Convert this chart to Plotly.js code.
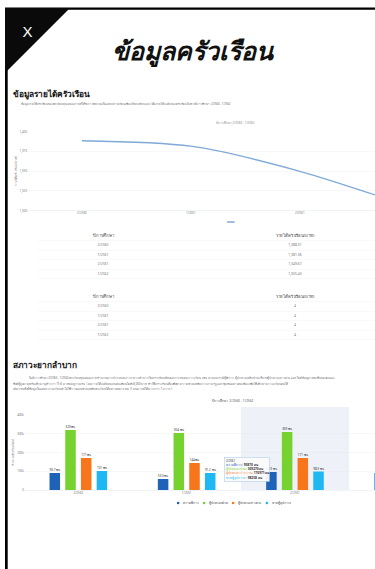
<!DOCTYPE html>
<html><head><meta charset="utf-8">
<script src="https://cdn.plot.ly/plotly-3.0.1.min.js"></script>
<style>
html,body{margin:0;padding:0;overflow:hidden;background:#fff;width:375px;height:569px;}
#wrap{position:absolute;left:0;top:0;width:375px;height:569px;overflow:hidden;}
#chart{position:absolute;left:0;top:0;width:1500px;height:2276px;transform:scale(0.25);transform-origin:0 0;}
</style></head><body><div id="wrap"><div id="chart"></div></div>
<script>
// ---------- data ----------
const terms = ["2/2560", "1/2561", "2/2561", "1/2562"];
const incomeValues = [1388.31, 1381.36, 1349.67, 1305.43];
const incomeLabels = ["1,388.31", "1,381.36", "1,349.67", "1,305.43"];
const memberLabels = ["4", "4", "4", "4"];
const tableHeaders = ["ปีการศึกษา", "รายได้ครัวเรือน(บาท)"];
const hardshipNames = ["ความพิการ", "ผู้ปกครองป่วย", "ผู้ปกครองว่างงาน", "ขาดผู้อุปการะ"];
const disabledCounts = [90700, 59000, 95870, 90500];
const parentIllCounts = [320100, 304200, 309270, 300400];
const unemployedCounts = [171200, 144300, 170971, 160200];
const orphanCounts = [101300, 91200, 98258, 95100];
const hardshipColors = ["#1f63b8", "#76d22e", "#f7761c", "#20b8f2"];

// ---------- geometry helpers (drawn at 4x, scaled down by CSS) ----------
const S = 4, W = 375, H = 569;
const fx = x => x / W;
const fy = y => 1 - y / H;
const fs = n => n * S;
const FONT = "Noto Sans, DejaVu Sans, sans-serif";

const hardshipSeries = [disabledCounts, parentIllCounts, unemployedCounts, orphanCounts];
const traces = [];

// line chart
traces.push({
  type: "scatter", mode: "lines", x: terms, y: incomeValues, xaxis: "x", yaxis: "y",
  line: {color: "#7fa9d6", width: fs(1.3), shape: "spline", smoothing: 0.8},
  name: " ", showlegend: true, legend: "legend2", hoverinfo: "skip"
});

// tables drawn as text on hidden axes
function tableTrace(col2, xa, ya) {
  const xs = [], ys = [], txt = [], sizes = [], colors = [];
  xs.push(0, 1); ys.push(0, 0); txt.push(tableHeaders[0], tableHeaders[1]);
  sizes.push(fs(4.3), fs(4.3)); colors.push("#444", "#444");
  terms.forEach((t, i) => {
    xs.push(0, 1); ys.push(i + 1, i + 1); txt.push(t, col2[i]);
    sizes.push(fs(3.4), fs(3.4)); colors.push("#777", "#777");
  });
  return {type: "scatter", mode: "text", x: xs, y: ys, text: txt, xaxis: xa, yaxis: ya,
    textposition: "middle center", textfont: {size: sizes, color: colors, family: FONT},
    showlegend: false, hoverinfo: "skip"};
}
traces.push(tableTrace(incomeLabels, "x3", "y3"));
traces.push(tableTrace(memberLabels, "x4", "y4"));

// bars
hardshipSeries.forEach((vals, k) => {
  traces.push({
    type: "bar", x: terms, y: vals, xaxis: "x2", yaxis: "y2",
    marker: {color: hardshipColors[k]}, name: hardshipNames[k], showlegend: false,
    text: vals.map(v => (v / 1000).toPrecision(3) + " พัน"), textposition: "outside",
    textfont: {size: fs(3), color: "#333", family: FONT}, cliponaxis: false, hoverinfo: "skip"
  });
});
// legend entries (circle symbols like the original)
hardshipNames.forEach((n, k) => {
  traces.push({type: "scatter", mode: "markers", x: [null], y: [null], xaxis: "x2", yaxis: "y2",
    name: n, marker: {color: hardshipColors[k], size: fs(2.6)}, legend: "legend", showlegend: true});
});

const tickFont = {size: fs(3), color: "#777", family: FONT};
const k = 2;
const tipText = "<span style='font-size:" + fs(2.8) + "px'>" + terms[k] + "</span>" +
  hardshipSeries.map((s, i) => "<br><span style='color:" + hardshipColors[i] + "'>" + hardshipNames[i] +
  ":</span> <b>" + s[k] + " คน</b>").join("");

function note(text, x, y, size, color, xanchor) {
  return {text: text, x: fx(x), y: fy(y), xref: "paper", yref: "paper", showarrow: false,
    xanchor: xanchor || "center", yanchor: "middle", align: xanchor === "left" ? "left" : "center",
    font: {size: fs(size), color: color}};
}

const layout = {
  width: 1500, height: 2276, margin: {l: 0, r: 0, t: 0, b: 0},
  paper_bgcolor: "#fff", plot_bgcolor: "rgba(0,0,0,0)",
  font: {family: FONT, color: "#333"},
  bargap: 0.42, bargroupgap: 0.33, barmode: "group",
  xaxis: {domain: [fx(27.5), 1], range: [-0.5, 2.69], type: "category", anchor: "y",
    showgrid: false, showline: true, linecolor: "#ccd6eb", linewidth: fs(0.3), ticks: "",
    tickfont: tickFont},
  yaxis: {domain: [fy(210.5), fy(131.5)], range: [1300, 1400], dtick: 25, anchor: "x",
    gridcolor: "#e9e9e9", gridwidth: fs(0.3), zeroline: false, tickfont: tickFont, tickformat: ",",
    title: {text: "รายได้ครัวเรือน (บาท)", font: {size: fs(2.8), color: "#777"}, standoff: fs(2)}},
  xaxis2: {domain: [fx(24.2), 1], range: [-0.5, 2.739], type: "category", anchor: "y2",
    showgrid: false, showline: true, linecolor: "#ccd6eb", linewidth: fs(0.3), ticks: "",
    tickfont: tickFont},
  yaxis2: {domain: [fy(490), fy(415)], range: [0, 400000], dtick: 100000, anchor: "x2",
    gridcolor: "#e9e9e9", gridwidth: fs(0.3), zeroline: false, tickfont: tickFont, tickformat: "~s",
    title: {text: "จำนวนนักเรียน (คน)", font: {size: fs(2.8), color: "#777"}, standoff: fs(2)}},
  xaxis3: {domain: [fx(38), 1], range: [(38 - 103) / 192, (375 - 103) / 192], visible: false, anchor: "y3"},
  yaxis3: {domain: [fy(279), fy(231.5)], range: [4.55, -0.5], anchor: "x3", tickmode: "linear", tick0: 0.5, dtick: 1,
    showticklabels: false, showgrid: true, gridcolor: "#ebebeb", gridwidth: fs(0.3), zeroline: false, showline: false},
  xaxis4: {domain: [fx(38), 1], range: [(38 - 103) / 192, (375 - 103) / 192], visible: false, anchor: "y4"},
  yaxis4: {domain: [fy(340), fy(292.5)], range: [4.55, -0.5], anchor: "x4", tickmode: "linear", tick0: 0.5, dtick: 1,
    showticklabels: false, showgrid: true, gridcolor: "#ebebeb", gridwidth: fs(0.3), zeroline: false, showline: false},
  legend: {orientation: "h", x: fx(232), xanchor: "center", y: fy(503), yanchor: "middle",
    font: {size: fs(3), color: "#333"}, bgcolor: "rgba(0,0,0,0)", itemwidth: 30},
  legend2: {orientation: "h", x: fx(232), xanchor: "center", y: fy(222), yanchor: "middle",
    font: {size: fs(3), color: "#333"}, bgcolor: "rgba(0,0,0,0)", itemwidth: 30},
  shapes: [
    {type: "rect", xref: "x2", yref: "paper", x0: 1.5, x1: 2.5, y0: fy(490), y1: fy(407),
      fillcolor: "#eef1f8", line: {width: 0}, layer: "below"},
    {type: "rect", xref: "paper", yref: "paper", x0: fx(5), x1: fx(7.7), y0: 0, y1: fy(8),
      fillcolor: "#000", line: {width: 0}, layer: "above"},
    {type: "rect", xref: "paper", yref: "paper", x0: fx(5), x1: 1, y0: fy(9.7), y1: fy(7.5),
      fillcolor: "#000", line: {width: 0}, layer: "above"},
    {type: "path", xref: "paper", yref: "paper",
      path: "M " + fx(5) + " " + fy(8) + " L " + fx(70) + " " + fy(8) + " L " + fx(5) + " " + fy(73) + " Z",
      fillcolor: "#0a0a0a", line: {width: 0}, layer: "above"}
  ],
  annotations: [
    Object.assign(note("X", 27.5, 31.5, 15, "#fff"), {font: {size: fs(15), color: "#fff", family: "Liberation Sans, Arial, sans-serif"}}),
    note("<b><i>ข้อมูลครัวเรือน</i></b>", 193, 50, 25, "#111"),
    note("<b>ข้อมูลรายได้ครัวเรือน</b>", 12, 94, 8.3, "#111", "left"),
    note("ข้อมูลรายได้ครัวเรือนของนักเรียนทุนเสมอภาคที่ได้รับการคัดกรองในแต่ละภาคเรียน เพื่อเปรียบเทียบแนวโน้มรายได้เฉลี่ยของครัวเรือนในช่วงปีการศึกษา 2/2560 - 1/2562",
      20, 104, 2.7, "#666", "left"),
    note("ปีการศึกษา 2/2560 - 1/2562", 235, 123, 3, "#888"),
    note("<b>สภาวะยากลำบาก</b>", 12, 365, 8.3, "#111", "left"),
    note("ในปีการศึกษา 2/2560 - 1/2562 นักเรียนทุนเสมอภาคจำนวนมากประสบสภาวะยากลำบากในครัวเรือนที่ส่งผลกระทบต่อการเรียน เช่น ครอบครัวมีผู้พิการ ผู้ปกครองเจ็บป่วยเรื้อรัง ผู้ปกครองว่างงาน และไม่มีที่อยู่อาศัยเป็นของตนเอง",
      28, 378, 2.8, "#666", "left"),
    note("ซึ่งมีผู้สูงอายุหรือเด็กอายุต่ำกว่า 15 ปี อาศัยอยู่ร่วมกัน โดยรายได้เฉลี่ยต่อคนต่อเดือนไม่ถึง 3,000 บาท ทำให้ครัวเรือนต้องพึ่งพาความช่วยเหลือจากภาครัฐและชุมชนอย่างต่อเนื่อง เพื่อให้เด็กสามารถเรียนต่อได้",
      12, 383.5, 2.8, "#666", "left"),
    note("เดียวกัน ทั้งนี้ข้อมูลในแต่ละภาคเรียนนำไปใช้วางแผนช่วยเหลือนักเรียนได้อย่างเหมาะสม (1 คนอาจมีได้มากกว่า 1 ภาวะ)",
      12, 389, 2.8, "#666", "left"),
    note("ปีการศึกษา 2/2560 - 1/2562", 233, 401, 3.3, "#555"),
    {text: tipText, x: fx(224), y: fy(457), xref: "paper", yref: "paper", showarrow: false,
      xanchor: "left", yanchor: "top", align: "left", bgcolor: "rgba(250,250,250,0.95)",
      bordercolor: "#8fb8e0", borderwidth: fs(0.4), borderpad: fs(1.6), font: {size: fs(3.2), color: "#333"}}
  ]
};

Plotly.newPlot("chart", traces, layout, {staticPlot: true, displayModeBar: false});
</script></body></html>
